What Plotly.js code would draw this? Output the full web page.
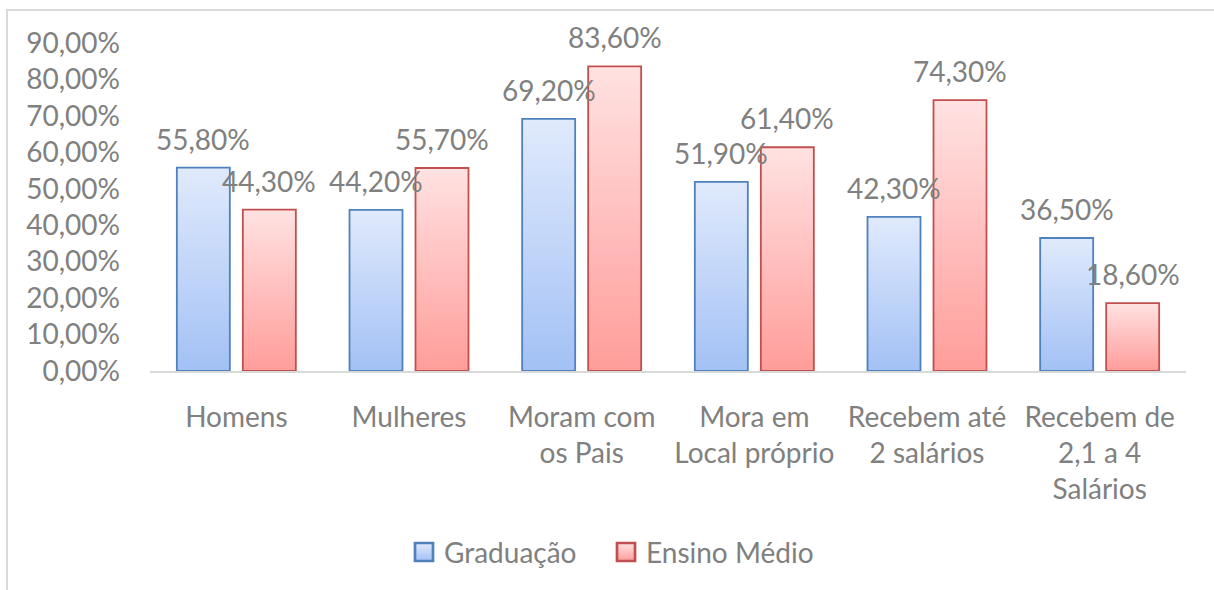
<!DOCTYPE html>
<html>
<head>
<meta charset="utf-8">
<script src="https://cdn.plot.ly/plotly-3.0.1.min.js"></script>
<style>
  html, body { margin: 0; padding: 0; background: #fff; }
  #wrap { position: relative; width: 1214px; height: 590px; overflow: hidden; }
  #chart { position: absolute; left: 0; top: 0; width: 1214px; height: 590px; }
  #frame { position: absolute; left: 6px; top: 9px; width: 1220px; height: 600px;
           border-top: 2px solid #d9d9d9; border-left: 2px solid #d9d9d9; pointer-events: none; }
</style>
</head>
<body>
<div id="wrap">
  <div id="chart"></div>
  <div id="frame"></div>
</div>
<script>
// ---- data ----
const categories = [
  "Homens",
  "Mulheres",
  "Moram com<br>os Pais",
  "Mora em<br>Local próprio",
  "Recebem até<br>2 salários",
  "Recebem de<br>2,1 a 4<br>Salários"
];
const graduacao = [55.8, 44.2, 69.2, 51.9, 42.3, 36.5];
const ensinoMedio = [44.3, 55.7, 83.6, 61.4, 74.3, 18.6];
const seriesNames = ["Graduação", "Ensino Médio"];

const textColor = "#808080";
const fontFamily = "Lato, 'Noto Sans', sans-serif";

function fmt(v) { return v.toFixed(2).replace(".", ",") + "%"; }

const traces = [
  {
    type: "bar", name: seriesNames[0], x: categories, y: graduacao,
    marker: { color: "#c3d6f8", line: { color: "#4f81bd", width: 1.8 } },
    hoverinfo: "none"
  },
  {
    type: "bar", name: seriesNames[1], x: categories, y: ensinoMedio,
    marker: { color: "#ffc2c1", line: { color: "#c0504d", width: 1.8 } },
    hoverinfo: "none"
  }
];

const annotations = [];
[graduacao, ensinoMedio].forEach((arr, s) => {
  arr.forEach((v, i) => {
    annotations.push({
      x: categories[i], y: v, xref: "x", yref: "y",
      text: fmt(v), showarrow: false,
      xshift: s === 0 ? -33 : 33, yshift: 29,
      xanchor: "center", yanchor: "middle",
      font: { family: fontFamily, size: 28, color: textColor }
    });
  });
});

const layout = {
  width: 1214, height: 590,
  margin: { l: 150, r: 28, t: 43, b: 219 },
  paper_bgcolor: "rgba(0,0,0,0)",
  plot_bgcolor: "rgba(0,0,0,0)",
  separators: ",.",
  barmode: "group",
  bargap: 0.2355,
  bargroupgap: 0.197,
  font: { family: fontFamily, size: 28, color: textColor },
  xaxis: {
    type: "category",
    showline: true, linecolor: "#d9d9d9", linewidth: 2,
    showgrid: false, zeroline: false, ticks: "",
    ticklabelstandoff: 20,
    tickfont: { family: fontFamily, size: 28, color: textColor }
  },
  yaxis: {
    range: [0, 90], dtick: 10, tick0: 0,
    tickformat: ".2f", ticksuffix: "%",
    showgrid: false, zeroline: false, showline: false, ticks: "",
    ticklabelstandoff: 29,
    tickfont: { family: fontFamily, size: 28, color: textColor }
  },
  showlegend: true,
  legend: {
    orientation: "h",
    x: 0.436, xanchor: "center",
    y: -0.555, yanchor: "middle",
    font: { family: fontFamily, size: 28, color: textColor },
    itemwidth: 30,
    traceorder: "normal"
  },
  annotations: annotations
};

function parseTranslate(el) {
  const t = el.getAttribute("transform") || "";
  const m = /translate\(\s*([-\d.e]+)[ ,]+([-\d.e]+)\s*\)/.exec(t);
  return m ? [parseFloat(m[1]), parseFloat(m[2])] : [0, 0];
}

Plotly.newPlot("chart", traces, layout, { displayModeBar: false, staticPlot: true }).then(function (gd) {
  const svgNS = "http://www.w3.org/2000/svg";
  const svg = gd.querySelector(".main-svg");
  let defs = svg.querySelector("defs");
  if (!defs) { defs = document.createElementNS(svgNS, "defs"); svg.insertBefore(defs, svg.firstChild); }
  function addGrad(id, top, bottom) {
    const g = document.createElementNS(svgNS, "linearGradient");
    g.setAttribute("id", id);
    g.setAttribute("x1", "0"); g.setAttribute("y1", "0");
    g.setAttribute("x2", "0"); g.setAttribute("y2", "1");
    const s1 = document.createElementNS(svgNS, "stop");
    s1.setAttribute("offset", "0"); s1.setAttribute("stop-color", top);
    const s2 = document.createElementNS(svgNS, "stop");
    s2.setAttribute("offset", "1"); s2.setAttribute("stop-color", bottom);
    g.appendChild(s1); g.appendChild(s2);
    defs.appendChild(g);
  }
  addGrad("gradBlue", "#e0eafc", "#a3c1f5");
  addGrad("gradRed", "#ffe2e2", "#ff9d9a");
  const gradIds = ["gradBlue", "gradRed"];
  gd.querySelectorAll(".barlayer .trace").forEach(function (tr, i) {
    tr.querySelectorAll("path").forEach(function (p) {
      p.style.fill = "url(#" + gradIds[i] + ")";
    });
  });

  // legend styling & placement
  const legend = gd.querySelector(".legend");
  legend.querySelectorAll("[clip-path]").forEach(function (el) { el.removeAttribute("clip-path"); });
  const items = legend.querySelectorAll(".traces");
  items.forEach(function (tr, i) {
    tr.querySelectorAll(".legendpoints path").forEach(function (p) {
      p.style.fill = "url(#" + gradIds[i] + ")";
      p.setAttribute("transform", "translate(20,0) scale(1.5)");
    });
  });
  if (items.length === 2) {
    const sw = items[0].querySelector(".legendpoints path");
    const r = sw.getBoundingClientRect();
    const wr = document.getElementById("wrap").getBoundingClientRect();
    const dx = 415 - (r.left - wr.left);
    const dy = 552 - ((r.top + r.bottom) / 2 - wr.top);
    const t0 = parseTranslate(items[0]);
    const x0 = t0[0] + dx, y0 = t0[1] + dy;
    items[0].setAttribute("transform", "translate(" + x0 + "," + y0 + ")");
    items[1].setAttribute("transform", "translate(" + (x0 + 202) + "," + y0 + ")");
  }
});
</script>
</body>
</html>
